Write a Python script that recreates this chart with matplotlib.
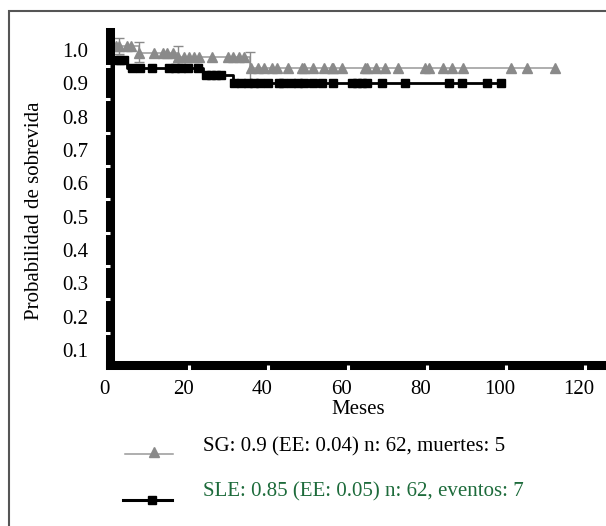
import numpy as np
import matplotlib
matplotlib.use('Agg')
import matplotlib.pyplot as plt
import matplotlib.transforms as mtransforms
from matplotlib.lines import Line2D
from matplotlib.patches import Rectangle

plt.rcParams['font.family'] = ['Liberation Serif', 'DejaVu Serif']

# Kaplan-Meier steps
sg_times = [0, 7.3, 17.3, 35.3, 113]
sg_surv = [1.0, 0.980, 0.968, 0.935, 0.935]
sle_times = [0, 0.3, 4.3, 23.5, 31.0, 98.7]
sle_surv = [1.0, 0.958, 0.934, 0.913, 0.889, 0.889]

# censored patients (months)
sg_cens = [1.5, 2.3, 4.3, 5.3, 7.3, 11, 13.5, 14.3, 16, 17.3, 18.8, 20, 21.3,
           22.6, 25.8, 29.8, 31, 32.6, 33.8, 35.6, 37.3, 38.8, 41, 42.3, 44.9,
           48.6, 49.1, 51.4, 54.1, 56.1, 56.4, 58.6, 64.4, 65, 67.2, 69.4,
           72.7, 79.7, 80.5, 84, 86.5, 89.2, 101.3, 105.3, 112.5]
sle_cens = [1.5, 2.5, 3.5, 5.5, 7.5, 10.5, 14.8, 16.3, 18, 19.8, 22.3, 24.3,
            25.6, 26.8, 28, 31.3, 33, 34.8, 36.3, 37.8, 39.8, 42.6, 43.8, 45.6,
            47.4, 48.9, 51.4, 53.6, 56.4, 61.2, 62.4, 63.7, 65, 68.7, 74.4,
            85.7, 89, 95.2, 98.7]

# error bars on SG
sg_err_t = [2.2, 7.3, 17.3, 35.3]
sg_err_v = [1.0, 0.982, 0.975, 0.935]
sg_err_e = [0.023, 0.03, 0.024, 0.046]

yticks = [0.1, 0.2, 0.3, 0.4, 0.5, 0.6, 0.7, 0.8, 0.9, 1.0]
xticks = [0, 20, 40, 60, 80, 100, 120]

sg_label = 'SG: 0.9 (EE: 0.04) n: 62, muertes: 5'
sle_label = 'SLE: 0.85 (EE: 0.05) n: 62, eventos: 7'


def step_value(times, surv, t):
    i = np.searchsorted(times, t, side='right') - 1
    return np.asarray(surv)[i]


W, H = 606, 526
FS = 15
fig = plt.figure(figsize=(W / 100, H / 100), dpi=100)
ax = fig.add_axes([110 / W, 1 - 364.5 / H, 496 / W, (364.5 - 32) / H])

gray = '#8a8a8a'
ax.step(sg_times, sg_surv, where='post', color='#999999', lw=1.1, zorder=2)
ax.plot(sg_cens, step_value(sg_times, sg_surv, sg_cens), ls='none',
        marker='^', ms=6.5, color=gray, zorder=2)
ax.errorbar(sg_err_t, sg_err_v, yerr=sg_err_e, fmt='none', ecolor=gray,
            elinewidth=1, capsize=3.5, zorder=2)

ax.step(sle_times, sle_surv, where='post', color='black', lw=2.0, zorder=2)
ax.plot(sle_cens, step_value(sle_times, sle_surv, sle_cens), ls='none',
        marker='s', ms=6, color='black', zorder=2)

ax.set_xlim(0.5, 125.3)
ax.set_ylim(0.0444, 1.042)

for s in ['top', 'right']:
    ax.spines[s].set_visible(False)
for s in ['left', 'bottom']:
    ax.spines[s].set_linewidth(6.5)
    ax.spines[s].set_color('black')

ax.set_yticks(yticks)
ax.set_yticklabels(['%.1f' % v for v in yticks])
ax.set_xticks(xticks)
ax.set_xticklabels([str(v) for v in xticks])
ax.set_yticks(np.arange(0.14, 0.95, 0.1), minor=True)
ax.set_xticks(xticks[1:], minor=True)
ax.xaxis.remove_overlapping_locs = False
ax.tick_params(which='major', length=0, labelsize=FS, colors='black')
ax.tick_params(axis='y', which='major', pad=15.5)
ax.tick_params(axis='x', which='major', pad=11)
ax.tick_params(which='minor', direction='out', length=3.5, width=2.2,
               color='white')
ax.xaxis.set_zorder(3)
ax.yaxis.set_zorder(3)

# tick labels are slightly shifted in the original
yoff = mtransforms.ScaledTranslation(0, -4 / 100, fig.dpi_scale_trans)
for lab in ax.get_yticklabels():
    lab.set_transform(lab.get_transform() + yoff)
xoff = mtransforms.ScaledTranslation(-6 / 100, 0, fig.dpi_scale_trans)
for lab in ax.get_xticklabels():
    lab.set_transform(lab.get_transform() + xoff)

fig.text(35 / W, 1 - 211 / H, 'Probabilidad de sobrevida', rotation=90,
         ha='center', va='center', fontsize=FS)
fig.text(358 / W, 1 - 410 / H, 'Meses', ha='center', va='center', fontsize=FS)

# legend drawn by hand below the axes
fig.add_artist(Line2D([125 / W, 173 / W], [1 - 454 / H] * 2, color='#999999',
                      lw=1.1, transform=fig.transFigure))
fig.add_artist(Line2D([154 / W], [1 - 452 / H], marker='^', ms=6.5, color=gray,
                      ls='none', transform=fig.transFigure))
fig.add_artist(Line2D([123 / W, 172 / W], [1 - 500 / H] * 2, color='black',
                      lw=2.2, transform=fig.transFigure))
fig.add_artist(Line2D([152 / W], [1 - 500 / H], marker='s', ms=6,
                      color='black', ls='none', transform=fig.transFigure))
fig.text(203 / W, 1 - 447 / H, sg_label, ha='left', va='center', fontsize=FS,
         color='black')
fig.text(203 / W, 1 - 492 / H, sle_label, ha='left', va='center', fontsize=FS,
         color='#1d6b3b')

# outer frame
fig.add_artist(Rectangle((9 / W, -0.2), 1.5, 1.2 - 11 / H, fill=False,
                         ec='#555555', lw=1.5, transform=fig.transFigure))

fig.savefig('out.png', dpi=100)
